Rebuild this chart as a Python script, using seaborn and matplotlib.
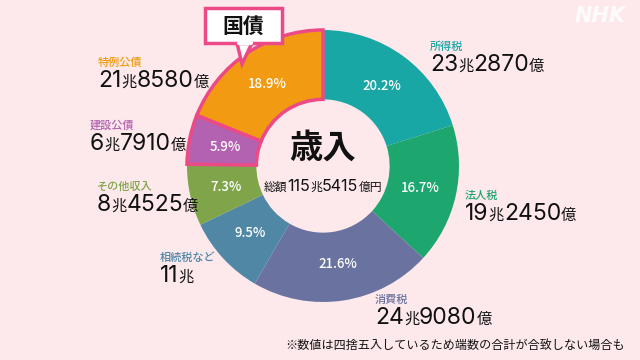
import re

import matplotlib
matplotlib.use("Agg")
import matplotlib.pyplot as plt
import seaborn as sns
from matplotlib.patches import FancyBboxPatch, Polygon

# 一般会計 歳入（兆円）
labels = ["所得税", "法人税", "消費税", "相続税など", "その他収入", "建設公債", "特例公債"]
values = [23.287, 19.245, 24.908, 11.0, 8.4525, 6.791, 21.858]
amounts = ["23兆2870億", "19兆2450億", "24兆9080億", "11兆", "8兆4525億", "6兆7910億", "21兆8580億"]
colors = ["#19a7a5", "#1ea66f", "#6a729f", "#4f87a5", "#7fa44a", "#b262b0", "#f19a12"]
total_text = "総額115兆5415億円"

# ラベル位置（ピクセル, 上から）
label_pos = [(430, 50), (465, 199), (375, 303), (160, 261), (97, 190), (90, 129), (98, 66)]

BG = "#fde9eb"
PINK = "#ec4a86"
FONT = ["Noto Sans CJK JP", "DejaVu Sans"]
DIGIT_FONT = ["Inter", "DejaVu Sans"]

sns.set_style("white")
plt.rcParams["font.family"] = FONT

fig = plt.figure(figsize=(6.4, 3.6), dpi=100, facecolor=BG)
ax = fig.add_axes([0, 0, 1, 1])
ax.set_facecolor(BG)


def Y(y):
    return 360 - y


cx, cy, R = 323, Y(166), 136
wedges, _, pct_texts = ax.pie(
    values, colors=colors, startangle=90, counterclock=False,
    center=(cx, cy), radius=R, autopct="%.1f%%", pctdistance=0.73,
    wedgeprops=dict(width=R * 0.51, edgecolor="none"),
    textprops=dict(color="white", fontsize=9.5, fontweight="medium"),
)
ax.set_xlim(0, 640)
ax.set_ylim(0, 360)
ax.set_aspect("auto")
ax.axis("off")

# 国債部分の縁取り
for w in wedges[5:]:
    w.set_edgecolor(PINK)
    w.set_linewidth(2.5)
    w.set_zorder(3)
for t in pct_texts:
    t.set_zorder(5)

renderer = fig.canvas.get_renderer()


def rich(x, y, parts, ha="left"):
    """サイズの違う文字列を横に並べる"""
    items = []
    pos = x
    for text, size, family in parts:
        t = ax.text(pos, y, text, fontsize=size, color="#111111", family=family,
                    ha="left", va="baseline", zorder=6)
        pos += t.get_window_extent(renderer).width
        items.append(t)
    width = pos - x
    if ha == "center":
        for t in items:
            px, py = t.get_position()
            t.set_position((px - width / 2, py))


def split_parts(s, big, small):
    return [(tok, big, DIGIT_FONT) if tok.isdigit() else (tok, small, FONT)
            for tok in re.findall(r"\d+|\D+", s)]


for name, amt, col, (lx, ly) in zip(labels, amounts, colors, label_pos):
    ax.text(lx, Y(ly), name, fontsize=8, color=col, fontweight="medium",
            ha="left", va="baseline")
    rich(lx, Y(ly + 21), split_parts(amt, 16.5, 11))

# 中央
ax.text(cx, Y(158), "歳入", fontsize=24, fontweight="bold", color="#111111",
        ha="center", va="baseline")
rich(cx, Y(191), split_parts(total_text, 11.5, 8.5), ha="center")

# 国債の吹き出し
box = FancyBboxPatch((205, Y(43)), 77, 35, boxstyle="square,pad=0",
                     facecolor="white", edgecolor=PINK, linewidth=2.5, zorder=7)
ax.add_patch(box)
tail = Polygon([(237, Y(43)), (252, Y(43)), (242, Y(64))], closed=True,
               facecolor="white", edgecolor=PINK, linewidth=2.5, zorder=6)
ax.add_patch(tail)
ax.plot([238.5, 250.5], [Y(43), Y(43)], color="white", lw=3, zorder=8)
ax.text(243.5, Y(26), "国債", fontsize=15, fontweight="bold", color="#111111",
        ha="center", va="center", zorder=9)

# 注記とロゴ
ax.text(625, Y(349), "※数値は四捨五入しているため端数の合計が合致しない場合も",
        fontsize=8.7, color="#111111", ha="right", va="baseline")
ax.text(600, Y(16), "NHK", fontsize=15, fontweight="bold", fontstyle="italic",
        color="white", alpha=0.85, ha="center", va="center", family=["DejaVu Sans"])

fig.savefig("out.png", dpi=100, facecolor=BG)
